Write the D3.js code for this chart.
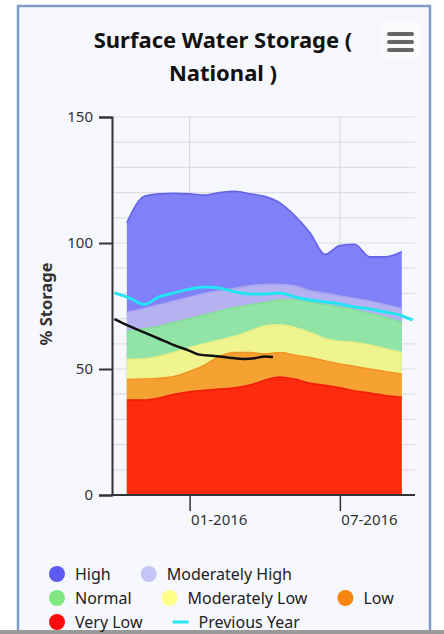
<!DOCTYPE html>
<html>
<head>
<meta charset="utf-8">
<script src="https://cdn.jsdelivr.net/npm/d3@7"></script>
<style>
	body { margin:0; background:#ffffff; }
	svg { display:block; }
	text { font-family:"Noto Sans", "DejaVu Sans", sans-serif; }
</style>
</head>
<body>
<div id="chart"></div>
<script>
// band dates (storage percentile thresholds)
var bandDates = ["2015-10-17","2015-11-07","2015-11-25","2015-12-13","2016-01-01","2016-01-19","2016-02-06","2016-02-25","2016-03-14","2016-04-01","2016-04-19","2016-05-07","2016-05-26","2016-06-13","2016-07-01","2016-07-19","2016-08-06","2016-08-25","2016-09-14"];

// upper edge of each band (% storage)
var highTop         = [108,118.5,119.5,119.7,119.5,119,120,120.5,119.5,118.5,116,111,104,95.5,99,99.5,94.5,94.5,96.5];
var modHighTop      = [72.5,74,75.5,77,78.5,80,81,82,83,83.5,83.5,83,81,80,79,78,77,75.5,74];
var normalTop       = [65,66,67,68.5,70,71.5,73,74.5,75.5,76.5,77.5,77.5,76.5,75.5,74.5,73.5,72,70.5,68.5];
var modLowTop       = [53.8,54,55,56.5,58.5,60,61.5,63,65,67,67.5,66.5,64.5,62,61,60.5,59.5,58,56.5];
var lowTop          = [45.8,46,46.3,47,49,51.5,55,56.5,56.5,56,56.5,55.5,54.5,53.2,52,51,50,49,48];
var veryLowTop      = [37.7,37.7,38.5,40,41,41.5,42,42.5,43.6,45.5,46.8,46,44.3,43.5,42.5,41.3,40.5,39.5,38.8];

var prevYearDates   = ["2015-10-02","2015-10-20","2015-11-07","2015-11-25","2015-12-13","2016-01-01","2016-01-19","2016-02-06","2016-02-25","2016-03-14","2016-04-01","2016-04-19","2016-05-07","2016-05-26","2016-06-13","2016-07-01","2016-07-19","2016-08-06","2016-08-25","2016-09-12","2016-09-27"];
var prevYearValues  = [80.2,78.2,75.6,78.6,80.2,81.7,82.5,82.1,80.6,79.8,79.8,80.2,78.6,77.4,76.6,75.8,74.6,73.8,72.6,71.4,69.4];

var currentDates    = ["2015-10-02","2015-10-20","2015-11-07","2015-11-25","2015-12-13","2016-01-01","2016-01-13","2016-01-31","2016-02-18","2016-03-08","2016-03-20","2016-04-01","2016-04-11"];
var currentValues   = [69.8,67,64.5,62,59.5,57.2,55.7,55.2,54.5,54,54.3,55,54.8];

var bandNames   = ["High","Moderately High","Normal","Moderately Low","Low","Very Low"];
var bandFills   = ["#8080f8","#b6b2f2","#92e4a6","#eff48e","#f6a232","#ff2b0e"];
var bandLines   = ["#6464e8","#aaa6ee","#86dc9c","#e8ee84","#f09426","#f01c0a"];
var legendColors= ["#5b5bf2","#c4c4f6","#80e880","#ffff88","#f7850f","#ff0a0a"];
var legendRows  = [["High","Moderately High"],["Normal","Moderately Low","Low"],["Very Low","Previous Year"]];

var yTicks = [0,50,100,150];
var xTickDates = ["2016-01-01","2016-07-01"];

var W = 444, H = 634;
var parse = d3.timeParse("%Y-%m-%d");

var svg = d3.select("#chart").append("svg").attr("width",W).attr("height",H);

// chart box
svg.append("rect").attr("x",18).attr("y",6).attr("width",412).attr("height",640)
	.attr("fill","#f7f8fd").attr("stroke","#7c9bc7").attr("stroke-width",2.5);
svg.append("rect").attr("x",0).attr("y",630).attr("width",W).attr("height",4).attr("fill","#9a9a9a");

// title
svg.append("text").attr("x",223).attr("y",48).attr("text-anchor","middle")
	.attr("font-size",22).attr("font-weight","bold").attr("fill","#111").text("Surface Water Storage (");
svg.append("text").attr("x",223).attr("y",81).attr("text-anchor","middle")
	.attr("font-size",22).attr("font-weight","bold").attr("fill","#111").text("National )");

// menu button
var menu = svg.append("g");
menu.append("rect").attr("x",382).attr("y",21).attr("width",38).attr("height",38).attr("fill","#fbfbfe");
[34,42,50].forEach(function(yy){
	menu.append("line").attr("x1",389).attr("x2",412).attr("y1",yy).attr("y2",yy)
		.attr("stroke","#666").attr("stroke-width",4).attr("stroke-linecap","round");
});

var x = d3.scaleTime().domain([parse("2015-09-29"),parse("2016-09-30")]).range([112,415]);
var y = d3.scaleLinear().domain([0,150]).range([495,117]);

// grid
var grid = svg.append("g");
grid.selectAll(".hg").data(d3.range(10,151,10)).enter().append("line")
	.attr("x1",112).attr("x2",415).attr("y1",function(d){ return y(d); }).attr("y2",function(d){ return y(d); })
	.attr("stroke","#dedee4").attr("stroke-width",1.2);
grid.selectAll(".vg").data(xTickDates).enter().append("line")
	.attr("x1",function(d){ return x(parse(d)); }).attr("x2",function(d){ return x(parse(d)); })
	.attr("y1",117).attr("y2",495).attr("stroke","#d6d6dc").attr("stroke-width",1);

// bands, drawn from zero, highest first
var bands = [highTop,modHighTop,normalTop,modLowTop,lowTop,veryLowTop];
var bDates = bandDates.map(parse);
bands.forEach(function(vals,k){
	var pts = vals.map(function(v,i){ return {d:bDates[i], v:v}; });
	var area = d3.area().x(function(p){ return x(p.d); }).y0(y(0)).y1(function(p){ return y(p.v); }).curve(d3.curveMonotoneX);
	var line = d3.line().x(function(p){ return x(p.d); }).y(function(p){ return y(p.v); }).curve(d3.curveMonotoneX);
	svg.append("path").datum(pts).attr("d",area).attr("fill",bandFills[k]);
	svg.append("path").datum(pts).attr("d",line).attr("fill","none").attr("stroke",bandLines[k]).attr("stroke-width",1.6);
});

// previous year
var lineGen = d3.line().x(function(p){ return x(p.d); }).y(function(p){ return y(p.v); }).curve(d3.curveMonotoneX);
svg.append("path").datum(prevYearValues.map(function(v,i){ return {d:parse(prevYearDates[i]), v:v}; }))
	.attr("d",lineGen).attr("fill","none").attr("stroke","#22e4f2").attr("stroke-width",3);
// current year
svg.append("path").datum(currentValues.map(function(v,i){ return {d:parse(currentDates[i]), v:v}; }))
	.attr("d",lineGen).attr("fill","none").attr("stroke","#111").attr("stroke-width",2.5);

// axes
var yAxis = svg.append("g").attr("transform","translate(112,0)")
	.call(d3.axisLeft(y).tickValues(yTicks).tickSize(13).tickPadding(6));
yAxis.select(".domain").attr("stroke","#333").attr("stroke-width",2);
yAxis.selectAll(".tick line").attr("stroke","#333").attr("stroke-width",2);
yAxis.selectAll(".tick text").attr("font-size",15).attr("fill","#333").style("font-family","'Noto Sans', sans-serif");

var xAxis = svg.append("g").attr("transform","translate(0,495)")
	.call(d3.axisBottom(x).tickValues(xTickDates.map(parse)).tickSize(16).tickFormat(d3.timeFormat("%m-%Y")));
xAxis.select(".domain").attr("stroke","#333").attr("stroke-width",2).attr("d","M112,0H415");
xAxis.selectAll(".tick line").attr("stroke","#333").attr("stroke-width",1.5);
xAxis.selectAll(".tick text").attr("font-size",15).attr("fill","#333").attr("text-anchor","start")
	.attr("dx",1).attr("y",19).style("font-family","'Noto Sans', sans-serif");

// y label
svg.append("text").attr("transform","translate(52,304) rotate(-90)").attr("text-anchor","middle")
	.attr("font-size",16.5).attr("font-weight","bold").attr("fill","#333").text("% Storage");

// legend
var legend = svg.append("g");
var rowY = [574,598,622];
legendRows.forEach(function(row,ri){
	var cx = 49;
	row.forEach(function(name){
		var g = legend.append("g");
		var k = bandNames.indexOf(name);
		if (k >= 0){
			g.append("circle").attr("cx",cx+8).attr("cy",rowY[ri]).attr("r",8).attr("fill",legendColors[k]);
		} else {
			g.append("line").attr("x1",cx).attr("x2",cx+16).attr("y1",rowY[ri]).attr("y2",rowY[ri])
				.attr("stroke","#22e4f2").attr("stroke-width",3);
		}
		var t = g.append("text").attr("x",cx+26).attr("y",rowY[ri]+6).attr("font-size",16).attr("fill","#222").text(name);
		cx += 26 + t.node().getComputedTextLength() + 30;
	});
});
</script>
</body>
</html>
